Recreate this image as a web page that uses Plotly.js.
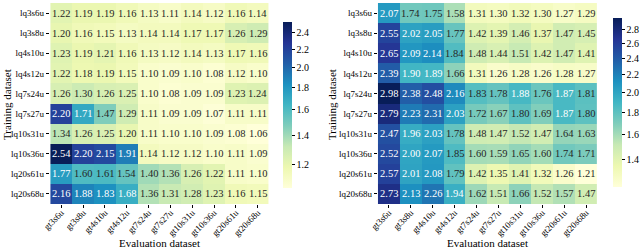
<!DOCTYPE html>
<html>
<head>
<meta charset="utf-8">
<script src="https://cdn.plot.ly/plotly-3.0.1.min.js"></script>
<style>html,body{margin:0;padding:0;background:#fff;}#chart{width:640px;height:248px;}</style>
</head>
<body>
<div id="chart"></div>
<script>
const xLabels = ['gt3s6u','gt3s8u','gt4s10u','gt4s12u','gt7s24u','gt7s27u','gt10s31u','gt10s36u','gt20s61u','gt20s68u'];
const yLabels = ['lq3s6u','lq3s8u','lq4s10u','lq4s12u','lq7s24u','lq7s27u','lq10s31u','lq10s36u','lq20s61u','lq20s68u'];

const leftValues = [
  [1.22,1.19,1.19,1.16,1.13,1.11,1.14,1.12,1.16,1.14],
  [1.20,1.16,1.15,1.13,1.14,1.14,1.17,1.17,1.26,1.29],
  [1.23,1.19,1.21,1.16,1.13,1.12,1.14,1.13,1.17,1.16],
  [1.22,1.18,1.19,1.15,1.10,1.09,1.10,1.08,1.12,1.10],
  [1.26,1.30,1.26,1.25,1.10,1.08,1.09,1.09,1.23,1.24],
  [2.20,1.71,1.47,1.29,1.11,1.09,1.09,1.07,1.11,1.11],
  [1.34,1.26,1.25,1.20,1.11,1.10,1.10,1.09,1.08,1.06],
  [2.54,2.20,2.15,1.91,1.14,1.12,1.12,1.10,1.11,1.09],
  [1.77,1.60,1.61,1.54,1.40,1.36,1.26,1.22,1.11,1.10],
  [2.16,1.88,1.83,1.68,1.36,1.31,1.28,1.23,1.16,1.15]
];

const rightValues = [
  [2.07,1.74,1.75,1.58,1.31,1.30,1.32,1.30,1.27,1.29],
  [2.55,2.02,2.05,1.77,1.42,1.39,1.46,1.37,1.47,1.45],
  [2.65,2.09,2.14,1.84,1.48,1.44,1.51,1.42,1.47,1.41],
  [2.39,1.90,1.89,1.66,1.31,1.26,1.28,1.26,1.28,1.27],
  [2.98,2.38,2.48,2.16,1.83,1.78,1.88,1.76,1.87,1.81],
  [2.79,2.23,2.31,2.03,1.72,1.67,1.80,1.69,1.87,1.80],
  [2.47,1.96,2.03,1.78,1.48,1.47,1.52,1.47,1.64,1.63],
  [2.52,2.00,2.07,1.85,1.60,1.59,1.65,1.60,1.74,1.71],
  [2.57,2.01,2.08,1.79,1.42,1.35,1.41,1.32,1.26,1.21],
  [2.73,2.13,2.26,1.94,1.62,1.51,1.66,1.52,1.57,1.47]
];

const leftTicks = [1.2,1.4,1.6,1.8,2.0,2.2,2.4];
const rightTicks = [1.4,1.6,1.8,2.0,2.2,2.4,2.6,2.8];

const xTitle = 'Evaluation dataset';
const yTitle = 'Training dataset';

const colorscale = [
  [0.0,'#ffffd9'],[0.125,'#edf8b1'],[0.25,'#c7e9b4'],[0.375,'#7fcdbb'],
  [0.5,'#41b6c4'],[0.625,'#1d91c0'],[0.75,'#225ea8'],[0.875,'#253494'],[1.0,'#081d58']
];

const FONT = 'Liberation Serif, Times New Roman, serif';
const H = 248, W = 640;

function makeTrace(values, ticks, xa, ya, cbX, cbLen, cbY) {
  return {
    type: 'heatmap',
    x: xLabels, y: yLabels,
    z: values.map(r => r.map(v => Math.log(v))),
    xaxis: xa, yaxis: ya,
    colorscale: colorscale,
    hoverinfo: 'skip',
    colorbar: {
      x: cbX, xanchor: 'left', xpad: 0, ypad: 0,
      y: cbY, yanchor: 'middle',
      thickness: 9, lenmode: 'pixels', len: cbLen,
      outlinewidth: 0,
      tickvals: ticks.map(t => Math.log(t)),
      ticktext: ticks.map(t => t.toFixed(1)),
      ticks: 'outside', ticklen: 3, tickwidth: 1, tickcolor: '#000',
      tickfont: {family: FONT, size: 10, color: '#000'}
    }
  };
}

function makeAnnotations(values, xref, yref) {
  const flat = values.flat();
  const lo = Math.log(Math.min(...flat)), hi = Math.log(Math.max(...flat));
  const ann = [];
  values.forEach((row, i) => row.forEach((v, j) => {
    const n = (Math.log(v) - lo) / (hi - lo);
    ann.push({
      x: xLabels[j], y: yLabels[i], xref: xref, yref: yref,
      text: v.toFixed(2), showarrow: false,
      font: {family: FONT, size: 10.5, color: n > 0.48 ? '#ffffff' : '#262626'}
    });
  }));
  return ann;
}

function titleAnnotations(cx, ty, lx, ly) {
  return [
    {xref: 'paper', yref: 'paper', x: cx / W, y: 1 - ty / H, text: xTitle, showarrow: false,
     xanchor: 'center', yanchor: 'middle', font: {family: FONT, size: 11, color: '#000'}},
    {xref: 'paper', yref: 'paper', x: lx / W, y: 1 - ly / H, text: yTitle, showarrow: false, textangle: -90,
     xanchor: 'center', yanchor: 'middle', font: {family: FONT, size: 11, color: '#000'}}
  ];
}

const yDom = [1 - 204 / H, 1 - 3 / H];

function axisX(domain, anchor) {
  return {
    domain: domain, anchor: anchor, type: 'category',
    tickangle: -45, ticks: 'outside', ticklen: 3, tickcolor: '#000',
    ticklabelstandoff: -4,
    tickfont: {family: FONT, size: 9, color: '#000'},
    showgrid: false, zeroline: false, showline: false
  };
}
function axisY(anchor) {
  return {
    domain: yDom, anchor: anchor, type: 'category', autorange: 'reversed',
    ticks: 'outside', ticklen: 3, tickcolor: '#000',
    tickfont: {family: FONT, size: 9, color: '#000'},
    showgrid: false, zeroline: false, showline: false
  };
}

const data = [
  makeTrace(leftValues, leftTicks, 'x', 'y', 284 / W, 166, 1 - 105 / H),
  makeTrace(rightValues, rightTicks, 'x2', 'y2', 615 / W, 169, 1 - 102.5 / H)
];

const layout = {
  width: W, height: H,
  margin: {l: 0, r: 0, t: 0, b: 0},
  paper_bgcolor: '#fff', plot_bgcolor: '#fff',
  font: {family: FONT, color: '#000'},
  showlegend: false,
  xaxis: axisX([50 / W, 270 / W], 'y'),
  yaxis: axisY('x'),
  xaxis2: axisX([379 / W, 599 / W], 'y2'),
  yaxis2: axisY('x2'),
  annotations: makeAnnotations(leftValues, 'x', 'y')
    .concat(makeAnnotations(rightValues, 'x2', 'y2'))
    .concat(titleAnnotations(160, 243, 7, 104))
    .concat(titleAnnotations(489, 243, 333, 104))
};

Plotly.newPlot('chart', data, layout, {displayModeBar: false, staticPlot: true});
</script>
</body>
</html>
